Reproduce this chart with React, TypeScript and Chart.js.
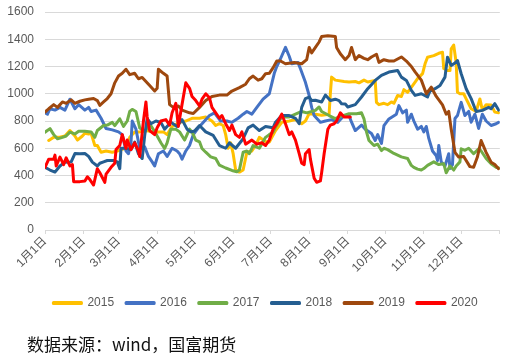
import React, { useEffect, useRef } from "react";
import { Chart, registerables } from "chart.js";

Chart.register(...registerables);

const monthTicks = [0, 31, 59, 90, 120, 151, 181, 212, 243, 273, 304, 334, 365];
const monthLabels = ["1月1日", "2月1日", "3月1日", "4月1日", "5月1日", "6月1日", "7月1日", "8月1日", "9月1日", "10月1日", "11月1日", "12月1日", ""];
const yTicks = [0, 200, 400, 600, 800, 1000, 1200, 1400, 1600];

const seriesNames = ["2015", "2016", "2017", "2018", "2019", "2020"];
const seriesColors = ["#FFC000", "#4472C4", "#70AD47", "#255E91", "#9E480E", "#FF0000"];

const days2015 = [3,7,11,16,20,24,26,30,32,35,37,40,42,45,49,54,58,61,65,68,72,76,81,86,92,95,98,102,108,113,118,124,129,134,137,140,143,145,147,149,151,153,156,159,162,166,169,172,177,180,185,190,196,201,204,206,209,212,217,222,228,229,230,233,240,244,249,252,256,259,265,266,268,272,275,278,280,283,286,288,291,295,299,303,305,307,312,316,319,320,323,325,326,328,330,331,333,336,338,342,346,349,351,354,358,361,364];
const vals2015 = [657,681,680,690,730,690,660,690,710,705,710,620,620,571,580,571,580,590,600,680,720,720,730,720,720,720,700,760,790,800,820,820,830,800,767,780,767,700,600,640,560,440,425,440,571,580,620,680,650,645,730,790,800,810,790,780,800,854,850,842,850,1000,1122,1100,1090,1086,1090,1080,1100,1086,1098,937,920,930,920,940,930,987,980,1030,1010,1060,1111,1148,1220,1268,1280,1297,1305,1185,1170,1170,1330,1357,1226,1011,1000,1000,962,890,870,962,880,920,918,865,860];

const days2016 = [0,2,4,8,12,16,20,24,27,32,35,37,41,45,49,54,59,62,65,67,69,70,73,76,80,83,86,88,91,95,98,102,106,108,110,113,116,119,124,128,132,136,141,146,150,155,159,162,166,170,175,180,184,186,189,193,196,198,203,205,209,212,214,216,218,221,225,230,235,240,244,246,249,254,257,262,265,267,270,272,276,282,284,287,290,291,294,296,299,302,304,306,308,311,314,315,316,318,321,324,325,327,329,331,334,337,340,342,345,348,351,354,358,362,364];
const vals2016 = [860,850,890,880,900,880,960,890,920,880,900,870,880,820,745,735,720,700,580,560,640,800,740,600,610,540,500,470,560,580,540,600,580,560,520,580,620,700,760,800,840,860,800,800,790,820,850,870,850,900,960,1000,1150,1200,1257,1340,1275,1220,1230,1183,1084,987,900,840,820,790,800,810,790,840,840,791,730,770,740,708,657,700,635,766,815,850,913,860,880,790,850,800,740,760,720,760,672,580,545,510,620,500,470,560,451,480,818,840,937,840,870,791,850,745,850,800,767,780,790];

const days2017 = [0,4,7,10,14,17,20,24,27,32,37,40,42,47,50,54,56,60,63,66,68,70,73,76,80,84,89,93,96,98,101,105,108,112,116,118,121,124,126,129,133,137,140,145,150,154,156,159,162,164,167,172,177,180,183,185,190,196,201,206,210,217,220,222,228,233,236,241,244,250,254,256,258,260,264,267,270,272,275,280,286,291,294,296,299,302,304,307,312,316,320,322,325,328,330,333,334,337,340,344,348,350,354,358,362,364];
const vals2017 = [718,744,700,669,680,690,718,705,725,725,720,680,730,767,770,790,766,816,760,800,870,885,870,750,720,780,707,640,598,640,740,740,720,660,740,720,660,647,598,571,537,525,476,455,437,427,440,571,580,560,620,600,680,700,718,756,830,830,850,870,860,878,903,870,840,817,830,845,854,853,860,816,720,657,620,630,583,600,590,562,537,525,474,460,447,440,451,474,500,480,486,420,470,440,470,500,596,585,600,560,596,580,525,486,460,455];

const days2018 = [0,4,8,12,16,21,24,28,32,35,38,42,44,47,50,55,58,60,61,64,69,72,75,78,80,82,85,89,93,96,101,106,110,114,117,120,124,129,135,140,145,148,153,159,163,167,172,177,183,185,190,196,201,204,206,209,212,214,217,222,225,229,233,236,238,241,243,249,254,259,265,270,276,283,286,290,294,297,302,307,309,313,317,321,323,326,329,331,334,338,342,346,351,356,358,361,364];
const vals2018 = [460,440,425,470,498,500,561,560,561,540,498,470,490,500,510,510,500,450,600,600,590,645,560,525,693,818,780,800,790,740,790,760,810,740,720,727,767,720,694,620,600,640,600,670,750,770,730,760,750,791,840,840,820,780,900,965,976,950,952,940,990,950,960,950,927,925,903,920,976,1037,1098,1135,1159,1171,1122,1098,1025,988,1000,976,1020,1037,1060,1122,1268,1208,1226,1244,1147,1037,964,870,878,900,890,927,880];

const days2019 = [0,3,7,10,14,17,21,24,28,32,35,39,42,44,47,50,53,56,59,62,65,68,72,75,78,81,84,88,90,91,95,98,100,103,107,110,116,119,124,129,134,140,146,150,156,161,164,167,171,174,177,180,183,186,189,193,200,206,210,212,214,217,220,222,227,233,234,237,241,244,246,249,252,256,259,262,266,268,272,276,280,286,290,294,297,302,306,310,314,319,322,324,326,329,332,336,341,344,347,350,354,358,361,364];
const vals2019 = [865,890,920,900,940,930,955,930,945,955,960,965,950,915,940,965,1000,1080,1130,1150,1180,1140,1150,1110,1120,1090,1060,1020,1040,1180,1150,1130,920,900,910,880,860,855,900,950,980,990,990,1020,1045,1070,1110,1130,1100,1110,1147,1150,1190,1240,1240,1220,1230,1220,1250,1340,1300,1340,1380,1420,1425,1420,1340,1293,1250,1280,1340,1250,1280,1260,1250,1270,1290,1230,1250,1240,1240,1270,1240,1200,1160,1100,1000,1048,980,918,850,870,740,570,535,540,465,460,535,657,570,498,480,450];

const days2020 = [0,3,7,8,9,12,15,17,20,22,23,28,32,34,36,39,42,44,48,49,53,56,57,60,62,65,66,69,72,75,76,79,81,82,84,88,90,93,97,100,102,105,107,109,113,116,118,121,124,126,129,132,134,137,140,142,145,148,150,153,156,158,161,166,170,174,177,180,183,186,190,193,196,198,201,204,206,208,209,212,213,216,218,221,222,224,227,229,232,234,237,240,242,245];
const vals2020 = [460,520,520,550,470,535,480,530,470,480,355,355,360,390,370,330,450,420,350,410,460,490,590,620,700,600,660,590,640,580,540,800,940,830,730,700,750,800,810,770,860,930,760,870,1080,1040,980,950,910,960,1000,970,900,860,820,840,780,730,770,700,680,720,630,660,630,640,620,660,740,780,850,780,700,720,660,560,490,480,560,590,520,380,350,360,420,560,740,770,780,800,860,830,830,830];

const seriesDays = [days2015, days2016, days2017, days2018, days2019, days2020];
const seriesVals = [vals2015, vals2016, vals2017, vals2018, vals2019, vals2020];

const sourceNote = "数据来源：wind，国富期货";

const FONT = '"Liberation Sans", "Noto Sans CJK SC", sans-serif';

const legendShift = {
  id: "legendShift",
  afterLayout(chart: any) {
    const lg = chart.legend;
    if (lg) {
      lg.left += 11;
      lg.right += 11;
    }
  },
};

export default function App() {
  const canvasRef = useRef<HTMLCanvasElement | null>(null);

  useEffect(() => {
    if (!canvasRef.current) return;
    const datasets = seriesNames.map((name, i) => {
      const ds = seriesDays[i];
      const vs = seriesVals[i];
      const n = Math.min(ds.length, vs.length);
      const data = [] as { x: number; y: number }[];
      for (let k = 0; k < n; k++) data.push({ x: ds[k], y: vs[k] });
      return {
        label: name,
        data,
        borderColor: seriesColors[i],
        backgroundColor: seriesColors[i],
        borderWidth: 3,
        pointRadius: 0,
        pointHoverRadius: 0,
        tension: 0,
        borderJoinStyle: "round" as const,
        borderCapStyle: "round" as const,
        order: seriesNames.length - i,
      };
    });

    const chart = new Chart(canvasRef.current, {
      type: "line",
      data: { datasets },
      plugins: [legendShift],
      options: {
        animation: false,
        responsive: false,
        events: [],
        layout: { padding: { top: 12, left: 7, right: 8, bottom: 37 } },
        scales: {
          x: {
            type: "linear",
            min: 0,
            max: 365,
            afterBuildTicks: (s: any) => {
              s.ticks = monthTicks.map((v) => ({ value: v }));
            },
            afterFit: (s: any) => {
              s.height = 55;
            },
            ticks: {
              autoSkip: false,
              minRotation: 45,
              maxRotation: 45,
              padding: 0,
              color: "#595959",
              font: { family: FONT, size: 12 },
              callback: (_v: any, idx: number) => monthLabels[idx] ?? "",
            },
            grid: {
              drawOnChartArea: false,
              drawTicks: true,
              tickLength: 4,
              color: "#D9D9D9",
            },
            border: { display: true, color: "#D9D9D9" },
          },
          y: {
            min: 0,
            max: 1600,
            afterBuildTicks: (s: any) => {
              s.ticks = yTicks.map((v) => ({ value: v }));
            },
            afterFit: (s: any) => {
              s.width = 38;
            },
            ticks: {
              padding: 0,
              color: "#595959",
              font: { family: FONT, size: 12 },
              callback: (v: any) => String(v),
            },
            grid: {
              drawTicks: true,
              tickLength: 11,
              tickColor: "rgba(0,0,0,0)",
              color: "#D9D9D9",
              lineWidth: 1,
            },
            border: { display: false },
          },
        },
        plugins: {
          legend: {
            position: "bottom",
            align: "center",
            labels: {
              boxWidth: 28,
              boxHeight: 1,
              padding: 12,
              color: "#595959",
              font: { family: FONT, size: 12 },
              sort: (a: any, b: any) => a.datasetIndex - b.datasetIndex,
            },
          },
          tooltip: { enabled: false },
          title: { display: false },
        },
      },
    });
    return () => chart.destroy();
  }, []);

  return (
    <div style={{ position: "fixed", left: 0, top: 0, width: 510, height: 356, background: "#ffffff", overflow: "hidden" }}>
      <canvas ref={canvasRef} width={510} height={356} style={{ position: "absolute", left: 0, top: 0, width: 510, height: 356 }} />
      <div
        style={{
          position: "absolute",
          left: 27,
          top: 334,
          fontFamily: '"Noto Sans CJK SC", sans-serif',
          fontSize: 17,
          lineHeight: "20px",
          color: "#111111",
          whiteSpace: "nowrap",
        }}
      >
        {sourceNote}
      </div>
    </div>
  );
}
